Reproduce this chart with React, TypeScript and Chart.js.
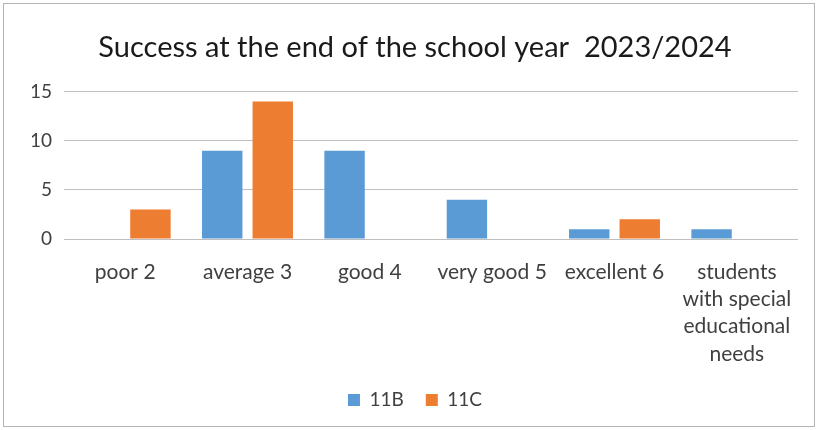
import React, { useEffect, useRef } from "react";
import { Chart, registerables } from "chart.js";

Chart.register(...registerables);

const categories: (string | string[])[] = [
  "poor 2",
  "average 3",
  "good 4",
  "very good 5",
  "excellent 6",
  ["students", "with special", "educational", "needs"],
];
const series11B = [0, 9, 9, 4, 1, 1];
const series11C = [3, 14, 0, 0, 2, 0];
const yTicks = [0, 5, 10, 15];

const FONT = "Lato";

export default function App() {
  const ref = useRef<HTMLCanvasElement | null>(null);
  useEffect(() => {
    if (!ref.current) return;
    const chart = new Chart(ref.current, {
      type: "bar",
      data: {
        labels: categories,
        datasets: [
          { label: "11B", data: series11B, backgroundColor: "#5B9BD5", categoryPercentage: 0.826, barPercentage: 0.8 },
          { label: "11C", data: series11C, backgroundColor: "#ED7D31", categoryPercentage: 0.826, barPercentage: 0.8 },
        ],
      },
      options: {
        responsive: false,
        animation: false,
        layout: { padding: { left: 32, right: 20, top: 0, bottom: 10.5 } },
        plugins: {
          title: {
            display: true,
            text: "Success at the end of the school year  2023/2024",
            color: "#1a1a1a",
            font: { family: FONT, size: 29, weight: "normal", lineHeight: 1.2 },
            padding: { top: 30, bottom: 27 },
          },
          legend: {
            position: "bottom",
            labels: {
              color: "#404040",
              font: { family: FONT, size: 19 },
              boxWidth: 12,
              boxHeight: 12,
              padding: 22,
            },
          },
          tooltip: { enabled: false },
        },
        scales: {
          x: {
            grid: { display: false, drawTicks: false },
            border: { display: false },
            ticks: {
              color: "#404040",
              font: { family: FONT, size: 21, lineHeight: 1.29 },
              padding: 20,
              maxRotation: 0,
              autoSkip: false,
            },
            afterFit: (s: any) => {
              s.height = 129.5;
            },
          },
          y: {
            min: 0,
            max: 15,
            afterBuildTicks: (s: any) => {
              s.ticks = yTicks.map((v) => ({ value: v }));
            },
            grid: { color: "#bfbfbf", lineWidth: 1, drawTicks: false },
            border: { display: false },
            ticks: {
              color: "#404040",
              font: { family: FONT, size: 19 },
              padding: 12,
            },
            afterFit: (s: any) => {
              s.width = 32;
            },
          },
        },
      },
    });
    return () => chart.destroy();
  }, []);
  return (
    <div style={{ position: "absolute", left: 0, top: 0, width: 818, height: 430, background: "#fff" }}>
      <div
        style={{
          position: "absolute",
          left: 3,
          top: 3,
          width: 810,
          height: 422,
          border: "1px solid #b4b4b4",
          boxSizing: "content-box",
        }}
      />
      <canvas ref={ref} width={818} height={430} style={{ position: "absolute", left: 0, top: 0 }} />
    </div>
  );
}
